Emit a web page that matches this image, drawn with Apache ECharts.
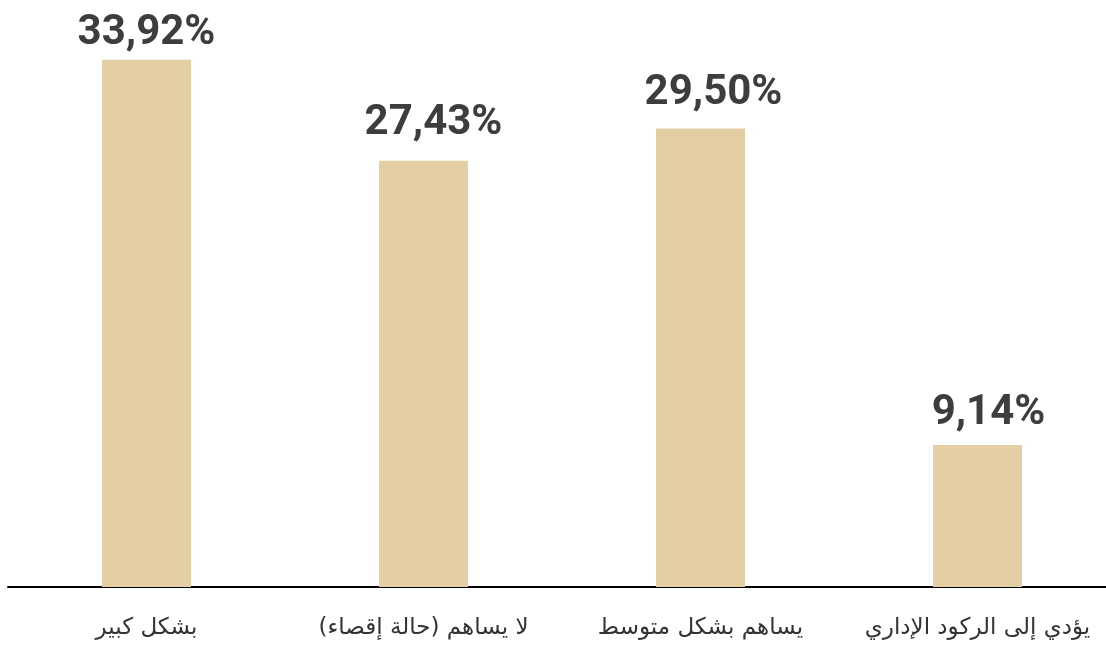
<!DOCTYPE html>
<html><head><meta charset="utf-8">
<script src="https://cdn.jsdelivr.net/npm/echarts@6/dist/echarts.min.js"></script>
<style>html,body{margin:0;padding:0;background:#fff;overflow:hidden}#c{width:1116px;height:646px}</style>
</head><body><div id="c"></div>
<script>
const categories = ['بشكل كبير', 'لا يساهم (حالة إقصاء)', 'يساهم بشكل متوسط', 'يؤدي إلى الركود الإداري'];
const values = [33.92, 27.43, 29.50, 9.14];
const labelOffsets = [[0, 0], [10, -11], [13, -9], [11, -5]];
const chart = echarts.init(document.getElementById('c'));
chart.setOption({
  animation: false,
  grid: { left: 8, right: 0, top: 0, bottom: 59, containLabel: false },
  xAxis: {
    type: 'category', data: categories,
    axisLine: { lineStyle: { color: '#000', width: 2 } },
    axisTick: { show: false },
    axisLabel: { interval: 0, fontFamily: 'DejaVu Sans', fontSize: 23, color: '#333', margin: 30 }
  },
  yAxis: { type: 'value', min: 0, max: 37.77, show: false, splitLine: { show: false } },
  series: [{
    type: 'bar', barWidth: 89,
    data: values.map((v, i) => ({ value: v, label: { offset: labelOffsets[i] } })),
    itemStyle: { color: '#E4CEA3' },
    label: {
      show: true, position: 'top', distance: 5,
      fontFamily: 'Roboto', fontWeight: 'bold', fontSize: 42, color: '#3d3d3d',
      formatter: p => p.value.toFixed(2).replace('.', ',') + '%'
    }
  }]
});
</script></body></html>
